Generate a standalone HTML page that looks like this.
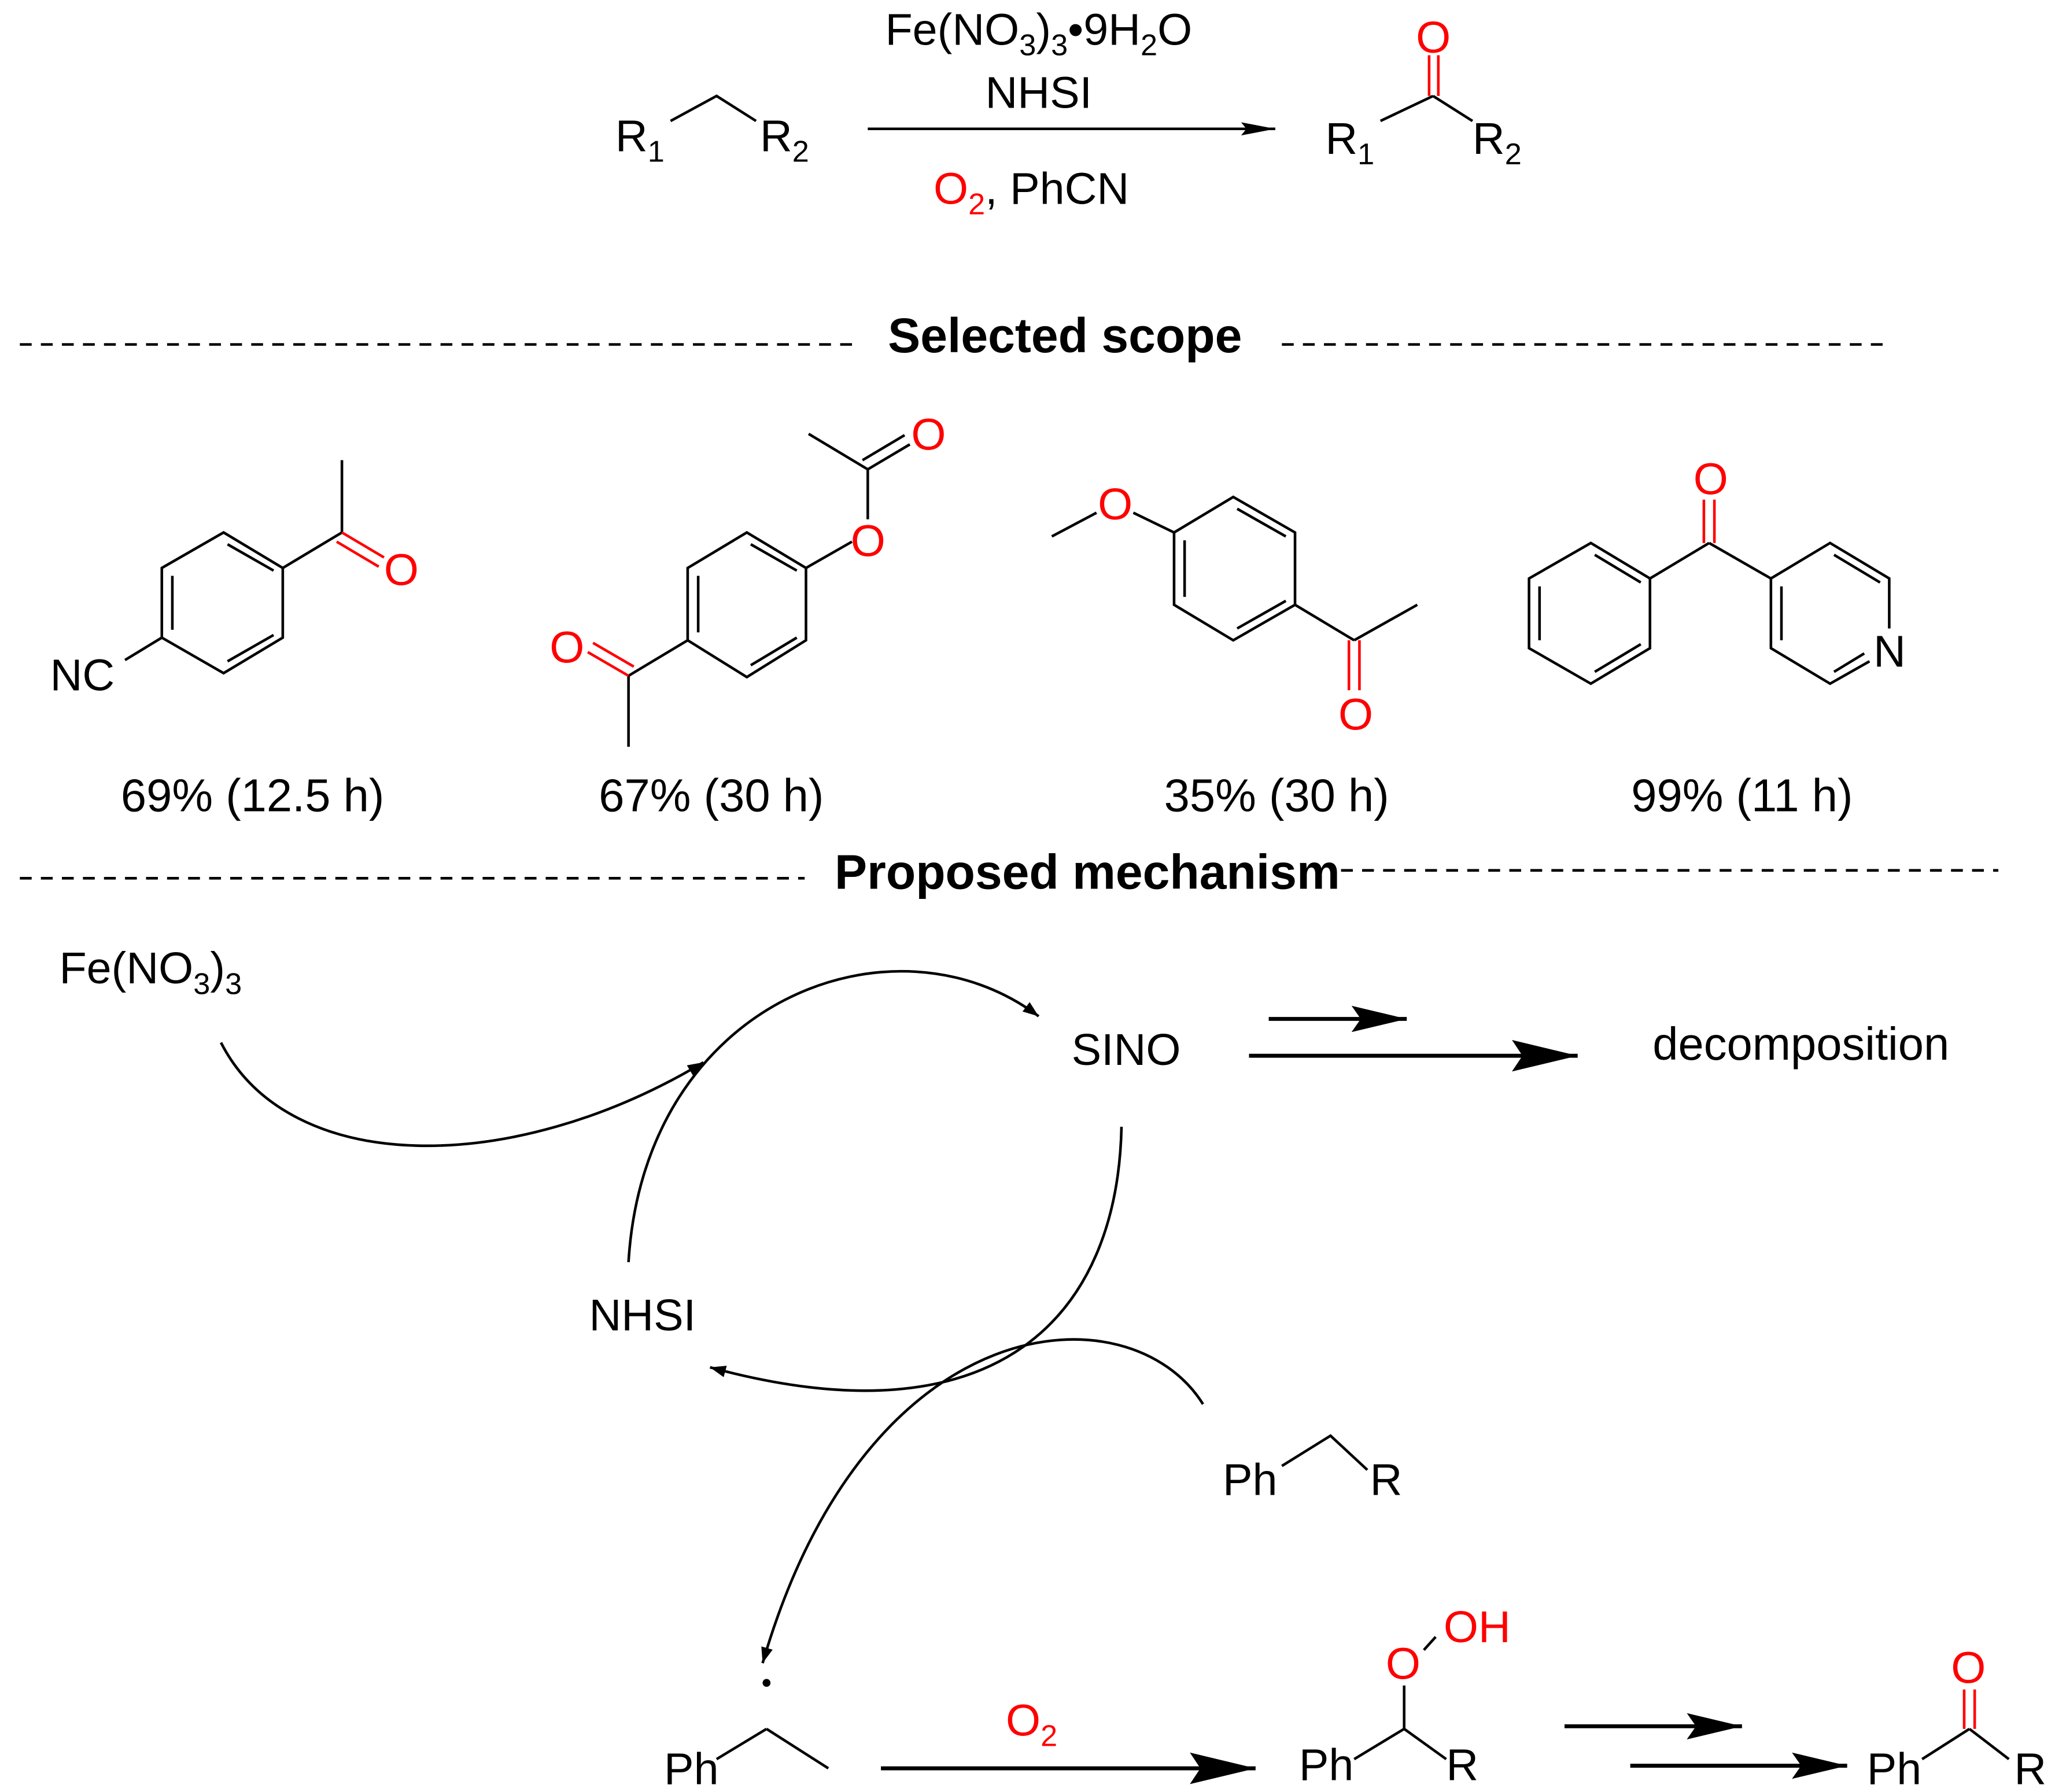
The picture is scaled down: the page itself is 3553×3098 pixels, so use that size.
<!DOCTYPE html>
<html><head><meta charset="utf-8"><style>html,body{margin:0;padding:0;background:#fff}svg{display:block}</style></head>
<body>
<svg width="3553" height="3098" viewBox="0 0 1563 1363" xmlns="http://www.w3.org/2000/svg" font-family="Liberation Sans, Arial, sans-serif" font-size="34">
<defs>
<marker id="a" markerWidth="12" markerHeight="9" refX="12" refY="4.5" orient="auto" markerUnits="userSpaceOnUse"><path d="M0,0 L12,4.5 L0,9 Z" fill="#000"/></marker>
<marker id="sm" markerWidth="26" markerHeight="10" refX="26" refY="5" orient="auto" markerUnits="userSpaceOnUse"><path d="M0,0 L26,5 L0,10 L4,5 Z" fill="#000"/></marker>
<marker id="big" markerWidth="50" markerHeight="24" refX="50" refY="12" orient="auto" markerUnits="userSpaceOnUse"><path d="M0,0 L50,12 L0,24 L8,12 Z" fill="#000"/></marker>
<marker id="mid" markerWidth="42" markerHeight="20" refX="42" refY="10" orient="auto" markerUnits="userSpaceOnUse"><path d="M0,0 L42,10 L0,20 L7,10 Z" fill="#000"/></marker>
</defs>
<g stroke="#000" stroke-width="2" fill="none">
<polyline points="510,92 545,73 575,92"/>
<line x1="660" y1="98" x2="970" y2="98" marker-end="url(#sm)"/>
<line x1="1050" y1="92" x2="1090" y2="73"/>
<line x1="1090" y1="73" x2="1120" y2="92"/>
<line x1="1087" y1="73" x2="1087" y2="42" stroke="red"/>
<line x1="1094" y1="73" x2="1094" y2="42" stroke="red"/>
<line x1="15" y1="262" x2="650" y2="262" stroke-dasharray="9,7"/>
<line x1="975" y1="262" x2="1435" y2="262" stroke-dasharray="9,7"/>
<line x1="15" y1="668" x2="612" y2="668" stroke-dasharray="9,7"/>
<line x1="1020" y1="662" x2="1520" y2="662" stroke-dasharray="9,7"/>
<polygon points="123,432 170,405 215,432 215,485 170,512 123,485"/>
<line x1="131" y1="438" x2="131" y2="479"/><line x1="173" y1="414" x2="208" y2="434"/><line x1="173" y1="503" x2="208" y2="483"/>
<line x1="123" y1="485" x2="95" y2="502"/>
<line x1="215" y1="432" x2="260" y2="405"/><line x1="260" y1="405" x2="260" y2="350"/>
<line x1="260" y1="405" x2="292" y2="424" stroke="red"/><line x1="256" y1="412" x2="288" y2="431" stroke="red"/>
<polygon points="523,432 568,405 613,432 613,487 568,515 523,487"/>
<line x1="531" y1="438" x2="531" y2="481"/><line x1="571" y1="414" x2="606" y2="434"/><line x1="571" y1="506" x2="606" y2="485"/>
<line x1="613" y1="432" x2="648" y2="412"/><line x1="660" y1="395" x2="660" y2="357"/>
<line x1="660" y1="357" x2="615" y2="330"/><line x1="660" y1="357" x2="692" y2="338"/><line x1="656" y1="350" x2="688" y2="331"/>
<line x1="523" y1="487" x2="478" y2="514"/><line x1="478" y1="514" x2="478" y2="568"/>
<line x1="478" y1="514" x2="447" y2="496" stroke="red"/><line x1="482" y1="507" x2="451" y2="489" stroke="red"/>
<polygon points="893,405 938,378 985,405 985,460 938,487 893,460"/>
<line x1="901" y1="411" x2="901" y2="454"/><line x1="941" y1="387" x2="978" y2="408"/><line x1="941" y1="478" x2="978" y2="457"/>
<line x1="893" y1="405" x2="862" y2="390"/><line x1="834" y1="390" x2="800" y2="408"/>
<line x1="985" y1="460" x2="1030" y2="487"/><line x1="1030" y1="487" x2="1078" y2="460"/>
<line x1="1026" y1="487" x2="1026" y2="525" stroke="red"/><line x1="1034" y1="487" x2="1034" y2="525" stroke="red"/>
<polygon points="1163,440 1210,413 1255,440 1255,493 1210,520 1163,493"/>
<line x1="1171" y1="446" x2="1171" y2="487"/><line x1="1213" y1="422" x2="1248" y2="443"/><line x1="1213" y1="511" x2="1248" y2="490"/>
<line x1="1255" y1="440" x2="1300" y2="413"/><line x1="1300" y1="413" x2="1347" y2="440"/>
<line x1="1296" y1="413" x2="1296" y2="380" stroke="red"/><line x1="1304" y1="413" x2="1304" y2="380" stroke="red"/>
<polyline points="1437,478 1437,440 1392,413 1347,440 1347,493 1392,520 1422,503"/>
<line x1="1355" y1="446" x2="1355" y2="487"/><line x1="1395" y1="422" x2="1430" y2="443"/><line x1="1395" y1="511" x2="1418" y2="497"/>
<path d="M168,793 C220,895 390,895 535,808" marker-end="url(#a)"/>
<path d="M478,960 C490,760 680,690 790,773" marker-end="url(#a)"/>
<path d="M853,857 C850,1000 760,1100 540,1040" marker-end="url(#a)"/>
<path d="M915,1068 C860,980 660,990 580,1265" marker-end="url(#a)"/>
<line x1="965" y1="775" x2="1070" y2="775" marker-end="url(#mid)" stroke-width="3"/>
<line x1="950" y1="803" x2="1200" y2="803" marker-end="url(#big)" stroke-width="3"/>
<polyline points="975,1115 1012,1092 1040,1118"/>
<line x1="545" y1="1338" x2="583" y2="1315"/><line x1="583" y1="1315" x2="630" y2="1345"/>
<line x1="670" y1="1345" x2="955" y2="1345" marker-end="url(#big)" stroke-width="3"/>
<line x1="1030" y1="1338" x2="1068" y2="1315"/><line x1="1068" y1="1315" x2="1100" y2="1338"/>
<line x1="1068" y1="1315" x2="1068" y2="1282"/><line x1="1083" y1="1255" x2="1092" y2="1245"/>
<line x1="1190" y1="1313" x2="1325" y2="1313" marker-end="url(#mid)" stroke-width="3"/>
<line x1="1240" y1="1343" x2="1405" y2="1343" marker-end="url(#mid)" stroke-width="3"/>
<line x1="1462" y1="1338" x2="1498" y2="1315"/><line x1="1498" y1="1315" x2="1528" y2="1338"/>
<line x1="1494" y1="1315" x2="1494" y2="1285" stroke="red"/><line x1="1502" y1="1315" x2="1502" y2="1285" stroke="red"/>
</g>
<circle cx="583" cy="1280" r="3" fill="#000"/>
<g fill="#000">
<text x="468" y="115">R<tspan font-size="23" dy="8">1</tspan></text>
<text x="578" y="115">R<tspan font-size="23" dy="8">2</tspan></text>
<text x="790" y="34" text-anchor="middle">Fe(NO<tspan font-size="23" dy="8">3</tspan><tspan dy="-8">)</tspan><tspan font-size="23" dy="8">3</tspan><tspan dy="-8">•9H</tspan><tspan font-size="23" dy="8">2</tspan><tspan dy="-8">O</tspan></text>
<text x="790" y="82" text-anchor="middle">NHSI</text>
<text x="710" y="155"><tspan fill="red">O</tspan><tspan fill="red" font-size="23" dy="8">2</tspan><tspan dy="-8">, PhCN</tspan></text>
<text x="1008" y="117">R<tspan font-size="23" dy="8">1</tspan></text>
<text x="1120" y="117">R<tspan font-size="23" dy="8">2</tspan></text>
<text x="1077" y="40" fill="red">O</text>
<text x="810" y="268" text-anchor="middle" font-weight="bold" font-size="37">Selected scope</text>
<text x="38" y="525">NC</text>
<text x="292" y="445" fill="red">O</text>
<text x="647" y="423" fill="red">O</text>
<text x="693" y="342" fill="red">O</text>
<text x="418" y="504" fill="red">O</text>
<text x="835" y="395" fill="red">O</text>
<text x="1018" y="555" fill="red">O</text>
<text x="1288" y="376" fill="red">O</text>
<text x="1425" y="507">N</text>
<text x="192" y="617" text-anchor="middle" font-size="35">69% (12.5 h)</text>
<text x="541" y="617" text-anchor="middle" font-size="35">67% (30 h)</text>
<text x="971" y="617" text-anchor="middle" font-size="35">35% (30 h)</text>
<text x="1325" y="617" text-anchor="middle" font-size="35">99% (11 h)</text>
<text x="827" y="676" text-anchor="middle" font-weight="bold" font-size="37">Proposed mechanism</text>
<text x="45" y="748">Fe(NO<tspan font-size="23" dy="8">3</tspan><tspan dy="-8">)</tspan><tspan font-size="23" dy="8">3</tspan></text>
<text x="815" y="810">SINO</text>
<text x="1257" y="806" font-size="35">decomposition</text>
<text x="448" y="1012">NHSI</text>
<text x="930" y="1137">Ph</text>
<text x="1042" y="1137">R</text>
<text x="505" y="1357">Ph</text>
<text x="765" y="1320" fill="red">O<tspan font-size="23" dy="8">2</tspan></text>
<text x="988" y="1354">Ph</text>
<text x="1100" y="1354">R</text>
<text x="1054" y="1277" fill="red">O</text>
<text x="1098" y="1249" fill="red">OH</text>
<text x="1420" y="1357">Ph</text>
<text x="1532" y="1357">R</text>
<text x="1484" y="1280" fill="red">O</text>
</g>
</svg>
</body></html>
